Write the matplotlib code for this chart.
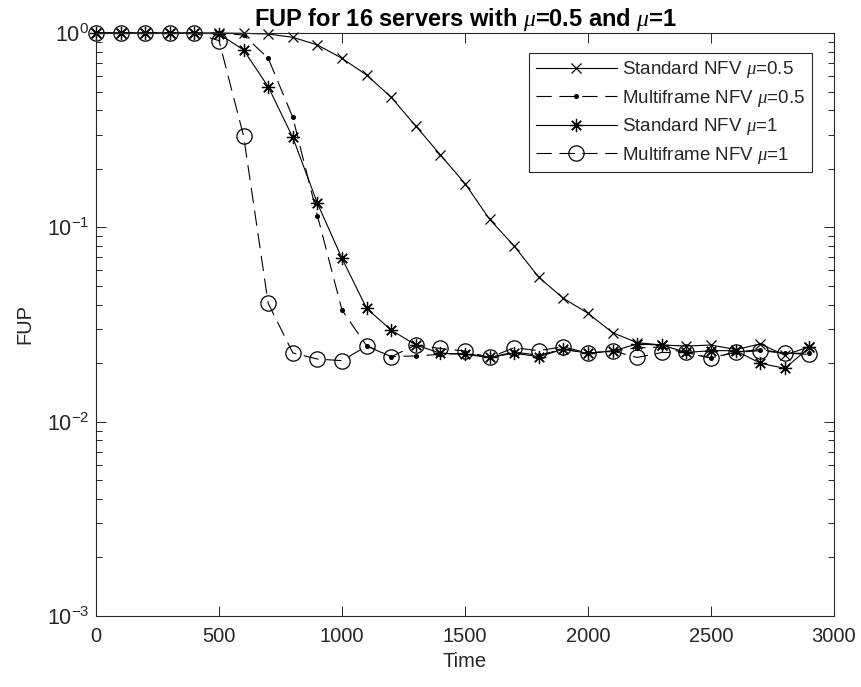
import matplotlib
matplotlib.use("Agg")
import matplotlib.pyplot as plt
from matplotlib.ticker import LogLocator, FixedLocator

plt.rcParams['font.family'] = ['Liberation Sans', 'DejaVu Sans']
plt.rcParams['mathtext.fontset'] = 'custom'
plt.rcParams['mathtext.it'] = 'Liberation Serif:italic'
plt.rcParams['mathtext.rm'] = 'Liberation Sans'
plt.rcParams['lines.scale_dashes'] = False

time = list(range(0, 3000, 100))

std_05 = [1.0, 1.0, 1.0, 1.0, 1.0, 1.0, 0.996, 0.988, 0.95, 0.868,
          0.741, 0.608, 0.467, 0.332, 0.236, 0.168, 0.110, 0.0801, 0.0553, 0.0431,
          0.0361, 0.0287, 0.0255, 0.0248, 0.0245, 0.0248, 0.0235, 0.0251, 0.0220, 0.0243]

mf_05 = [1.0, 1.0, 1.0, 1.0, 1.0, 1.0, 0.976, 0.741, 0.368, 0.115,
         0.0375, 0.0246, 0.0216, 0.0218, 0.0222, 0.0225, 0.0214, 0.0228, 0.0220, 0.0236,
         0.0225, 0.0231, 0.0240, 0.0242, 0.0225, 0.0213, 0.0228, 0.0235, 0.0225, 0.0225]

std_1 = [1.0, 1.0, 1.0, 1.0, 1.0, 0.99, 0.818, 0.529, 0.290, 0.133,
         0.0692, 0.0383, 0.0296, 0.0248, 0.0225, 0.0222, 0.0214, 0.0225, 0.0216, 0.0236,
         0.0225, 0.0231, 0.0251, 0.0248, 0.0227, 0.0232, 0.0232, 0.0200, 0.0188, 0.0241]

mf_1 = [1.0, 1.0, 1.0, 1.0, 1.0, 0.913, 0.295, 0.0406, 0.0226, 0.0210,
        0.0206, 0.0245, 0.0216, 0.0248, 0.0238, 0.0231, 0.0214, 0.0240, 0.0232, 0.0243,
        0.0225, 0.0231, 0.0214, 0.0227, 0.0227, 0.0213, 0.0227, 0.0232, 0.0225, 0.0222]

labels = [r'Standard NFV $\mu$=0.5', r'Multiframe NFV $\mu$=0.5',
          r'Standard NFV $\mu$=1', r'Multiframe NFV $\mu$=1']

fig = plt.figure(figsize=(8.61, 6.87), dpi=100)
ax = fig.add_axes([96/861, 71/687, 738/861, 583/687])

lw = 0.8
dash = (11, 5.5)
ax.plot(time, std_05, color='black', lw=lw, marker='x', markersize=7.5,
        markeredgewidth=0.9, label=labels[0], clip_on=False)
ax.plot(time, mf_05, color='black', lw=lw, linestyle=(0, dash), marker='o', markersize=2.6,
        label=labels[1], clip_on=False)
ax.plot(time, std_1, color='black', lw=lw, marker=(8, 2, 0), markersize=9.5,
        markeredgewidth=0.9, label=labels[2], clip_on=False)
ax.plot(time, mf_1, color='black', lw=lw, linestyle=(0, dash), marker='o', markersize=11,
        markerfacecolor='none', markeredgewidth=0.9, label=labels[3], clip_on=False)

ax.set_yscale('log')
ax.set_xlim(0, 3000)
ax.set_ylim(1e-3, 1)
ax.xaxis.set_major_locator(FixedLocator([0, 500, 1000, 1500, 2000, 2500, 3000]))
ax.yaxis.set_major_locator(LogLocator(base=10, numticks=10))
ax.yaxis.set_minor_locator(LogLocator(base=10, subs=range(2, 10), numticks=20))

axc = '#262626'
for s in ax.spines.values():
    s.set_color(axc)
    s.set_linewidth(0.8)
ax.tick_params(which='both', direction='in', top=True, right=True, colors=axc,
               labelsize=14, labelcolor=axc, width=0.7)
ax.tick_params(which='major', length=7)
ax.tick_params(which='minor', length=4)
ax.tick_params(axis='x', pad=8, labelsize=14.5)
ax.tick_params(axis='y', pad=5, labelsize=15.5)

ax.set_xlabel('Time', fontsize=14.5, color=axc, labelpad=4)
ax.set_ylabel('FUP', fontsize=14.5, color=axc, labelpad=9)
ax.set_title(r'FUP for 16 servers with $\mu$=0.5 and $\mu$=1', fontsize=17,
             fontweight='bold', pad=2)

leg = ax.legend(loc='upper right', bbox_to_anchor=(0.970, 0.966),
                bbox_transform=ax.transAxes, borderaxespad=0, fontsize=13.5,
                frameon=True, fancybox=False, framealpha=1, edgecolor=axc,
                handlelength=4.3, handletextpad=0.3, labelspacing=0.4,
                borderpad=0.35)
leg.get_frame().set_linewidth(0.8)
for t in leg.get_texts():
    t.set_color(axc)

fig.savefig('out.png', dpi=100)
